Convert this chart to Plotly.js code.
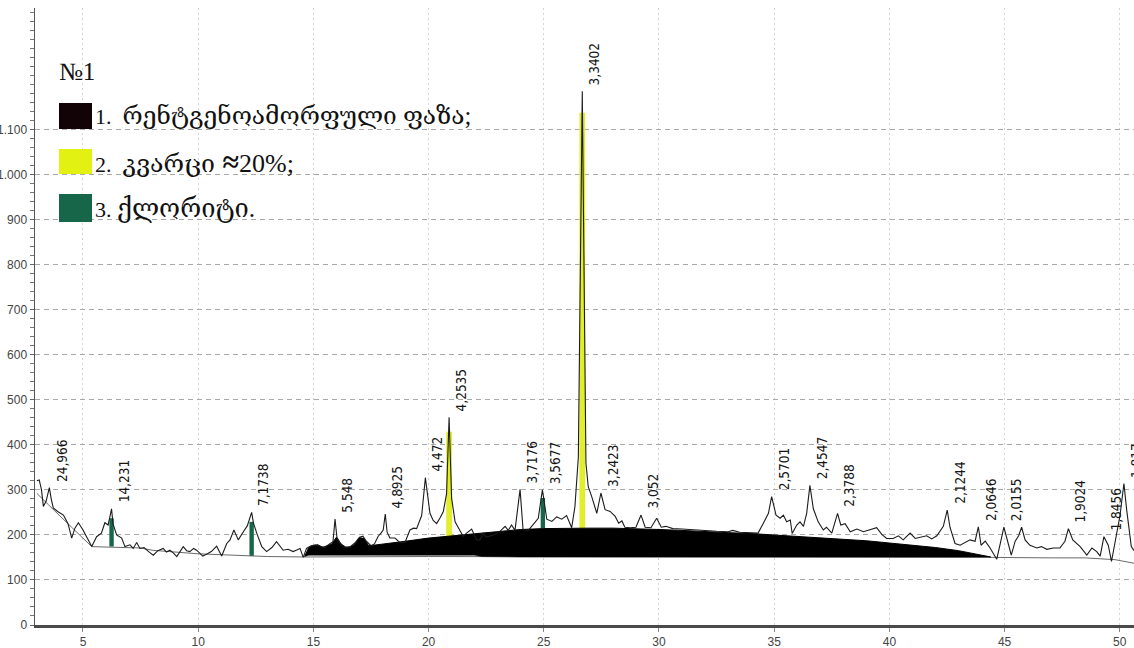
<!DOCTYPE html>
<html>
<head>
<meta charset="utf-8">
<script src="https://cdn.plot.ly/plotly-3.0.1.min.js"></script>
<style>
  html, body { margin: 0; padding: 0; background: #ffffff; }
  #chart { width: 1134px; height: 648px; }
</style>
</head>
<body>
<div id="chart"></div>
<script>
// ---- Diffractogram (2θ, intensity) ----
const curveX = [3.00,3.10,3.20,3.28,3.40,3.54,3.62,3.71,3.90,4.15,4.35,4.51,4.65,4.80,5.00,5.20,5.38,5.59,5.80,5.95,6.09,6.24,6.30,6.46,6.68,6.82,7.04,7.18,7.33,7.47,7.65,7.85,8.05,8.25,8.48,8.62,8.77,8.92,9.07,9.35,9.50,9.64,9.80,9.93,10.05,10.20,10.40,10.57,10.80,11.02,11.24,11.38,11.55,11.74,11.96,12.13,12.32,12.40,12.54,12.76,12.97,13.20,13.40,13.55,13.69,13.90,14.12,14.30,14.42,14.56,14.70,14.90,15.10,15.30,15.50,15.70,15.85,15.94,16.02,16.20,16.40,16.60,16.80,17.00,17.15,17.30,17.50,17.65,17.80,17.95,18.03,18.12,18.20,18.32,18.54,18.76,18.98,19.19,19.35,19.48,19.70,19.86,20.06,20.20,20.35,20.50,20.64,20.78,20.89,21.00,21.15,21.36,21.50,21.65,21.87,22.08,22.23,22.37,22.50,22.80,23.10,23.32,23.46,23.60,23.75,23.97,24.10,24.33,24.55,24.76,24.94,25.13,25.35,25.56,25.78,25.99,26.21,26.35,26.50,26.67,26.83,26.93,27.08,27.30,27.48,27.66,27.88,28.10,28.25,28.39,28.52,28.75,29.00,29.22,29.40,29.65,29.90,30.10,30.30,30.60,31.00,31.50,32.00,32.50,33.00,33.20,33.50,34.00,34.30,34.53,34.75,34.89,35.08,35.26,35.40,35.54,35.70,35.78,35.98,36.12,36.27,36.41,36.55,36.70,36.91,37.13,37.27,37.50,37.64,37.75,37.89,38.08,38.30,38.59,38.87,39.16,39.45,39.67,39.88,40.17,40.39,40.60,40.90,41.12,41.33,41.62,41.84,42.06,42.34,42.51,42.63,42.85,43.07,43.28,43.50,43.72,43.86,43.98,44.16,44.37,44.66,44.81,44.97,45.10,45.29,45.46,45.61,45.74,45.89,46.10,46.40,46.60,46.83,47.11,47.40,47.62,47.77,47.96,48.28,48.57,48.79,49.00,49.15,49.31,49.50,49.64,49.86,50.01,50.18,50.30,50.50,50.62];
const curveY = [320,322,300,263,275,305,280,260,252,244,225,193,215,227,211,190,174,196,204,227,222,258,225,200,193,174,178,170,183,170,172,163,155,165,170,162,166,160,152,174,165,163,170,166,160,153,158,163,175,153,181,189,211,189,207,220,250,226,204,174,163,172,185,176,166,168,163,167,170,150,170,176,178,175,172,180,185,235,195,178,172,174,182,195,197,186,176,180,196,205,211,246,206,193,193,183,184,211,215,214,243,327,248,232,225,238,252,291,461,281,229,210,197,204,213,189,189,204,195,199,208,219,210,222,210,301,212,210,225,237,300,235,230,240,235,243,216,262,373,1185,359,307,285,248,293,256,252,241,226,231,217,216,217,244,217,216,237,217,219,214,213,211,209,208,207,210,206,205,204,226,248,285,244,237,244,229,233,203,222,229,219,248,310,258,229,211,217,204,229,248,222,225,207,213,207,211,216,201,192,192,198,189,204,192,195,198,191,198,219,255,217,181,177,183,189,186,218,177,186,171,146,180,217,192,155,186,198,217,189,177,171,174,168,171,171,186,214,189,174,155,171,163,153,196,177,141,198,243,314,255,174,165];

// ---- Background line ----
const baseX = [3.0,3.13,3.5,4.0,4.5,5.0,5.38,6.0,7.0,7.5,8.0,9.0,10.0,11.0,12.3,13.0,14.6,20,30,40,44.5,47,48.5,49.8,50.62];
const baseY = [292,285,267,242,218,193,174,173,172,171,166,162,158,156,153,152,151,152,151,151,150,149,149,145,137];

// ---- X-ray amorphous phase (hump) ----
const amorphX   = [14.62,14.8,15.0,15.2,15.4,15.6,15.8,16.0,16.2,16.4,16.6,16.8,17.0,17.2,17.4,17.6,18,19,20,21,22,22.3,23,24,25,26,27,28,29,30,31,32,33,34,35,36,37,38,39,40,41,42,43,43.5,44,44.4];
const amorphTop = [152,172,176,178,172,176,180,195,180,173,172,180,194,192,176,177,180,186,193,198,203,204,207,212,214,215,215,215,214,212,210,207,205,203,200,197,194,190,187,182,177,172,165,160,155,151];
const amorphBot = [152,155,155,155,155,155,155,155,155,155,155,155,155,155,155,155,155,155,155,155,155,152,151,151,151,151,151,151,151,151,151,151,151,151,151,151,151,151,151,151,151,151,151,151,151,151];

// ---- Quartz reflections ----
const quartzX    = [20.89, 26.67];
const quartzBase = [196, 215];
const quartzTop  = [429, 1137];

// ---- Chlorite reflections ----
const chloriteX    = [6.24, 12.32, 24.96];
const chloriteBase = [174, 153, 215];
const chloriteTop  = [237, 229, 282];

// ---- Peak labels (d-spacing, Å) ----
const peakX = [3.54,6.24,12.32,15.94,18.12,19.86,20.89,23.97,24.94,26.67,27.48,29.22,34.89,36.55,37.75,42.51,43.86,44.97,47.77,49.31,50.18];
const peakY = [305,258,250,235,246,327,461,301,300,1185,293,244,285,310,248,255,218,217,214,196,314];
const peakLabels = ["24,966","14,231","7,1738","5,548","4,8925","4,472","4,2535","3,7176","3,5677","3,3402","3,2423","3,052","2,5701","2,4547","2,3788","2,1244","2,0646","2,0155","1,9024","1,8456","1,817"];

// ---- Axis ticks ----
const xTicks = [5,10,15,20,25,30,35,40,45,50];
const yTicks = [0,100,200,300,400,500,600,700,800,900,1000,1100];
const yTickText = ["0","100","200","300","400","500","600","700","800","900","1.000","1.100"];

// ---- Legend ----
const legendTitle = "№1";
const legendNums = ["1.&nbsp; ", "2.&nbsp; ", "3. "];
const legendNames = [
  '<span style="font-size:24.5px">რენტგენოამორფული ფაზა;</span>',
  '<span style="font-size:25px">კვარცი</span><span style="font-size:30px"><b> ≈</b></span><span style="font-size:26px">20%;</span>',
  '<span style="font-size:25.5px">ქლორიტი.</span>'
];
const legendColors = ["#120406", "#e2f012", "#17664a"];

const W = 1134, H = 648;
const M = {l: 35, r: 0, t: 8, b: 23};
const pw = W - M.l - M.r, ph = H - M.t - M.b;
const px = x => (x - M.l) / pw;
const py = y => (H - M.b - y) / ph;

const diff = (a, b) => a.map((v, i) => v - b[i]);

const traces = [
  {type: 'bar', x: chloriteX, base: chloriteBase, y: diff(chloriteTop, chloriteBase),
   width: 0.19, marker: {color: '#17664a', line: {width: 0}}, hoverinfo: 'skip'},
  {type: 'bar', x: quartzX, base: quartzBase, y: diff(quartzTop, quartzBase),
   width: 0.25, marker: {color: '#e0ef2a', line: {width: 0}}, hoverinfo: 'skip'},
  {type: 'scatter', mode: 'lines', x: baseX, y: baseY,
   line: {color: '#6a6a6a', width: 1}, hoverinfo: 'skip'},
  {type: 'scatter', mode: 'lines', x: amorphX, y: amorphBot,
   line: {color: '#000', width: 0.5}, hoverinfo: 'skip'},
  {type: 'scatter', mode: 'lines', x: amorphX, y: amorphTop, fill: 'tonexty',
   fillcolor: '#000000', line: {color: '#000', width: 1}, hoverinfo: 'skip'},
  {type: 'scatter', mode: 'lines', x: curveX, y: curveY,
   line: {color: '#1c1c1c', width: 1.1}, hoverinfo: 'skip'}
];

const annotations = peakX.map((x, i) => ({
  x: x, y: peakY[i], xref: 'x', yref: 'y', text: peakLabels[i],
  showarrow: false, textangle: -90, xanchor: 'center', yanchor: 'bottom',
  xshift: 12, yshift: 5, borderpad: 0,
  font: {family: '"Liberation Sans Narrow", "Arial Narrow", "DejaVu Sans Condensed", sans-serif', size: 13.5, color: '#151515'}
}));

const serif = '"Liberation Serif", "DejaVu Serif", serif';
annotations.push({
  xref: 'paper', yref: 'paper', x: px(57), y: py(72), xanchor: 'left', yanchor: 'middle',
  text: legendTitle, showarrow: false, font: {family: serif, size: 25, color: '#111'}
});
const rowsY = [116, 161, 208];
const rectY = [[103,129],[149,174],[194,222]];
const shapes = [];
legendNames.forEach((t, i) => {
  shapes.push({type: 'rect', xref: 'paper', yref: 'paper',
    x0: px(59), x1: px(92), y0: py(rectY[i][1]), y1: py(rectY[i][0]),
    fillcolor: legendColors[i], line: {width: 0}});
  annotations.push({xref: 'paper', yref: 'paper', x: px(93), y: py(rowsY[i]),
    xanchor: 'left', yanchor: 'middle',
    text: legendNums[i] + t,
    showarrow: false,
    font: {family: serif, size: 22, color: '#111'}});
});

const layout = {
  width: W, height: H,
  margin: M,
  paper_bgcolor: '#ffffff', plot_bgcolor: '#ffffff',
  showlegend: false,
  barmode: 'overlay',
  xaxis: {
    range: [2.917, 50.617], tickmode: 'array', tickvals: xTicks,
    showgrid: true, gridcolor: '#d4d4d4', griddash: '2px,3px', gridwidth: 1,
    zeroline: false, showline: true, linecolor: '#4a4a4a', linewidth: 3,
    ticks: 'outside', ticklen: 4, tickcolor: '#888',
    tickfont: {family: '"Liberation Sans", Arial, sans-serif', size: 12, color: '#444'},
    automargin: false
  },
  yaxis: {
    range: [0, 1369.6], tickmode: 'array', tickvals: yTicks, ticktext: yTickText,
    showgrid: true, gridcolor: '#a8a8a8', griddash: '5px,4px', gridwidth: 1,
    zeroline: false, showline: true, linecolor: '#555', linewidth: 1.5,
    ticks: 'outside', ticklen: 4, tickcolor: '#666',
    minor: {tickmode: 'linear', tick0: 0, dtick: 20, ticks: 'outside', ticklen: 4, tickcolor: '#777', showgrid: false},
    tickfont: {family: '"Liberation Sans", Arial, sans-serif', size: 12, color: '#444'},
    automargin: false
  },
  annotations: annotations,
  shapes: shapes
};

Plotly.newPlot('chart', traces, layout, {displayModeBar: false, staticPlot: true});
</script>
</body>
</html>
